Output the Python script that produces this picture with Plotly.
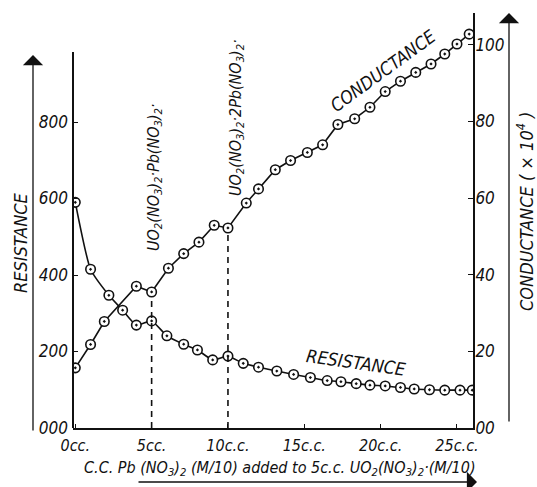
import plotly.graph_objects as go

# ---- data ----
res_cc = [0, 1.0, 2.2, 3.1, 4.0, 5.0, 6.0, 7.1, 8.0, 9.0, 10.0, 11.0, 12.0, 13.2, 14.3,
          15.4, 16.5, 17.4, 18.4, 19.3, 20.3, 21.3, 22.2, 23.2, 24.2, 25.2, 26.0]
resistance = [590, 415, 347, 308, 269, 280, 241, 219, 204, 178, 188, 169, 159, 149, 140,
              132, 124, 121, 116, 112, 110, 106, 102, 100, 99, 99, 99]

cond_cc = [0, 1.0, 1.9, 4.0, 5.0, 6.1, 7.1, 8.1, 9.1, 10.0, 11.2, 12.0, 13.1, 14.1, 15.2,
           16.2, 17.2, 18.3, 19.3, 20.3, 21.3, 22.3, 23.3, 24.2, 25.0, 25.8]
conductance = [15.7, 21.8, 27.8, 37.0, 35.5, 41.7, 45.5, 48.5, 52.9, 52.2, 58.7, 62.4, 67.4,
               69.8, 71.9, 73.9, 79.2, 80.7, 83.7, 87.8, 90.5, 92.8, 95.0, 97.6, 100.2, 102.8]

break_points = [5.0, 10.0]   # compound break points (dashed lines)

x_tickvals = [0, 5, 10, 15, 20, 25]
x_ticktext = ["0cc.", "5cc.", "10c.c.", "15c.c.", "20c.c.", "25c.c."]
res_tickvals = [0, 200, 400, 600, 800]
res_ticktext = ["000", "200", "400", "600", "800"]
cond_tickvals = [0, 20, 40, 60, 80, 100]
cond_ticktext = ["00", "20", "40", "60", "80", "100"]

FONT = "Liberation Sans Narrow, DejaVu Sans Condensed, Liberation Sans, sans-serif"
INK = "#111111"

def f(size):
    return dict(family=FONT, size=size, color=INK, style="italic")

fig = go.Figure()

# dashed verticals at the break points (from the conductance data)
for bp in break_points:
    i = cond_cc.index(bp)
    fig.add_trace(go.Scatter(x=[cond_cc[i], cond_cc[i]], y=[0, conductance[i]], yaxis="y2",
                             mode="lines", line=dict(color=INK, width=1.6, dash="6px,5px"),
                             hoverinfo="skip", showlegend=False))

marker = dict(symbol="circle-dot", size=9.5, color="white", line=dict(color=INK, width=1.6))

fig.add_trace(go.Scatter(x=res_cc, y=resistance, mode="lines+markers", name="Resistance",
                         line=dict(color=INK, width=1.6, shape="spline", smoothing=0.5),
                         marker=marker, showlegend=False))
fig.add_trace(go.Scatter(x=cond_cc, y=conductance, yaxis="y2", mode="lines+markers",
                         name="Conductance", line=dict(color=INK, width=1.6),
                         marker=marker, showlegend=False))

W, H = 537, 487
L, R, T, B = 73, 64, 13, 59
pw, ph = W - L - R, H - T - B

def px(xp):
    return (xp - L) / pw

def py(yp):
    return (H - B - yp) / ph

fig.update_layout(
    width=W, height=H,
    margin=dict(l=L, r=R, t=T, b=B, pad=0),
    paper_bgcolor="white", plot_bgcolor="white",
    showlegend=False,
    xaxis=dict(range=[-0.15, 26.05], tickvals=x_tickvals, ticktext=x_ticktext,
               showgrid=False, zeroline=False, showline=True, linecolor=INK, linewidth=2,
               ticks="inside", ticklen=4, tickcolor=INK, tickfont=f(16),
               ticklabelstandoff=2),
    yaxis=dict(range=[0, 1085], tickvals=res_tickvals, ticktext=res_ticktext,
               showgrid=False, zeroline=False, showline=False,
               ticks="inside", ticklen=5, tickcolor=INK, tickfont=f(17),
               ticklabelstandoff=4),
    yaxis2=dict(range=[0, 108.3], tickvals=cond_tickvals, ticktext=cond_ticktext,
                overlaying="y", side="right", showgrid=False, zeroline=False,
                showline=True, linecolor=INK, linewidth=2,
                ticks="inside", ticklen=5, tickcolor=INK, tickfont=f(17),
                ticklabelstandoff=-3),
)

# left frame line (shorter than the plot height)
fig.add_shape(type="line", xref="paper", yref="paper", x0=0, x1=0, y0=0, y1=py(52),
              line=dict(color=INK, width=2))

# outer arrowed axes
arrow = dict(text="", showarrow=True, arrowhead=1, arrowsize=2.6, arrowwidth=1.3,
             arrowcolor=INK, axref="pixel", ayref="pixel")
fig.add_annotation(xref="paper", yref="paper", x=px(33), y=py(55), ax=0, ay=377, **arrow)
fig.add_annotation(xref="paper", yref="paper", x=px(509), y=py(13), ax=0, ay=410, **arrow)
fig.add_annotation(xref="paper", yref="paper", x=px(477), y=py(482), ax=-340, ay=0, **arrow)

def label(x, y, text, size, angle=0):
    fig.add_annotation(xref="paper", yref="paper", x=px(x), y=py(y), text=text,
                       textangle=angle, showarrow=False, font=f(size),
                       xanchor="center", yanchor="middle")

# axis titles
label(20, 243, "RESISTANCE", 18, -90)
label(525, 212, "CONDUCTANCE ( × 10<sup>4</sup> )", 18, -90)
label(280, 468, "C.C. Pb (NO<sub>3</sub>)<sub>2</sub> (M/10) added to 5c.c. "
                "UO<sub>2</sub>(NO<sub>3</sub>)<sub>2</sub>·(M/10)", 16)

# in-plot labels
label(154, 177, "UO<sub>2</sub>(NO<sub>3</sub>)<sub>2</sub>·Pb(NO<sub>3</sub>)<sub>2</sub>·", 16, -90)
label(236, 118, "UO<sub>2</sub>(NO<sub>3</sub>)<sub>2</sub>·2Pb(NO<sub>3</sub>)<sub>2</sub>·", 16, -90)
label(383, 70, "CONDUCTANCE", 18, -36)
label(356, 362, "RESISTANCE", 18, 8)

fig.write_html("out.html", config={"displayModeBar": False},
               post_script="document.body.style.margin='0';")
